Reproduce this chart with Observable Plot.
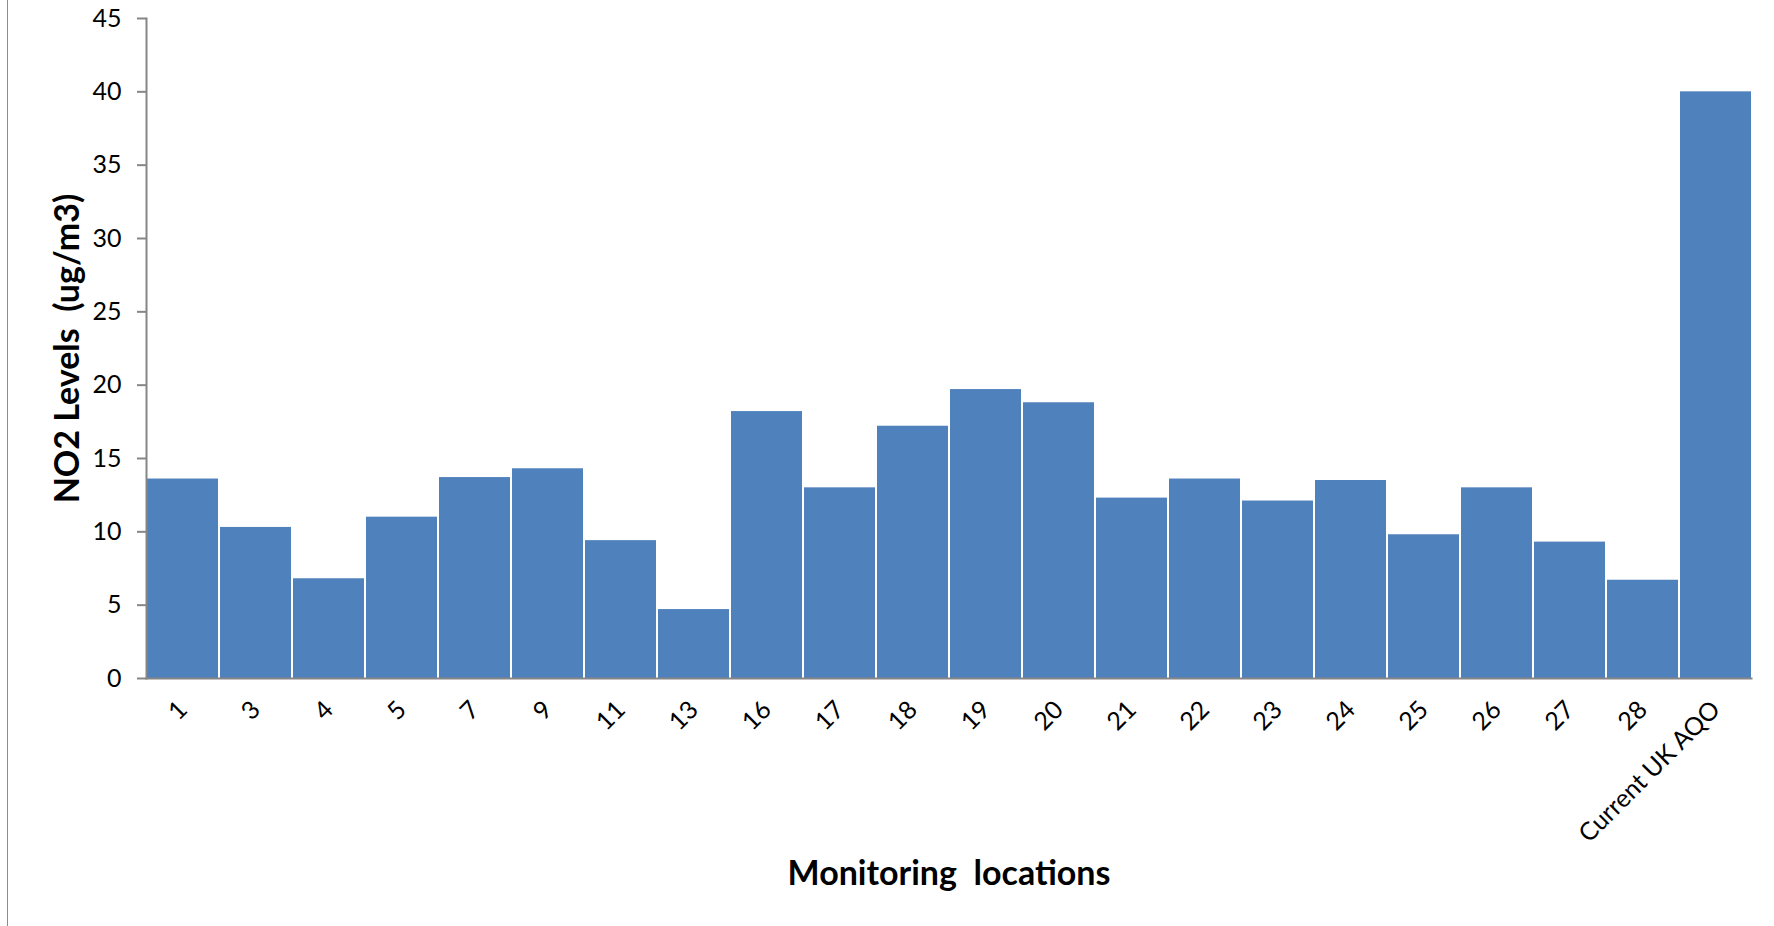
<!DOCTYPE html>
<html>
<head>
<meta charset="utf-8">
<script src="https://cdn.jsdelivr.net/npm/d3@7"></script>
<script src="https://cdn.jsdelivr.net/npm/@observablehq/plot@0.6"></script>
<style>
  html, body { margin: 0; padding: 0; background: #fff; }
  #wrap { position: relative; width: 1774px; height: 926px; }
  #border { position: absolute; left: 7px; top: 0; width: 1px; height: 926px; background: #8c8c8c; }
  svg text { white-space: pre; }
  g[aria-label="y-axis label"] text, g[aria-label="x-axis label"] text { font-weight: bold; font-size: 34px; fill: #000; }
</style>
</head>
<body>
<div id="wrap"><div id="border"></div></div>
<script>
const locations = ["1","3","4","5","7","9","11","13","16","17","18","19","20","21","22","23","24","25","26","27","28","Current UK AQO"];
const no2 = [13.6,10.3,6.8,11.0,13.7,14.3,9.4,4.7,18.2,13.0,17.2,19.7,18.8,12.3,13.6,12.1,13.5,9.8,13.0,9.3,6.7,40];
const yTicks = [0,5,10,15,20,25,30,35,40,45];

const data = locations.map((l, i) => ({location: l, value: no2[i]}));

const chart = Plot.plot({
  width: 1774,
  height: 926,
  marginLeft: 146,
  marginRight: 23,
  marginTop: 18,
  marginBottom: 248,
  style: {fontFamily: "Lato, 'Open Sans', sans-serif", fontSize: "25px", color: "#000", background: "#fff"},
  x: {domain: locations, paddingInner: 0.03, paddingOuter: 0},
  y: {domain: [0, 45]},
  marks: [
    Plot.barY(data, {x: "location", y: "value", fill: "#4F81BD"}),
    Plot.frame({anchor: "left", stroke: "#868686", strokeWidth: 2}),
    Plot.frame({anchor: "bottom", stroke: "#868686", strokeWidth: 2}),
    Plot.axisY({ticks: yTicks, tickSize: 9, tickPadding: 16, stroke: "#868686", strokeWidth: 2, fontSize: 25,
      label: "NO2 Levels  (ug/m3)", labelAnchor: "center", labelArrow: "none", labelOffset: 92}),
    Plot.axisX({tickRotate: -45, tickSize: 0, tickPadding: 27, fontSize: 25,
      label: "Monitoring  locations", labelAnchor: "center", labelArrow: "none", labelOffset: 206})
  ]
});
document.getElementById("wrap").appendChild(chart);
</script>
</body>
</html>
